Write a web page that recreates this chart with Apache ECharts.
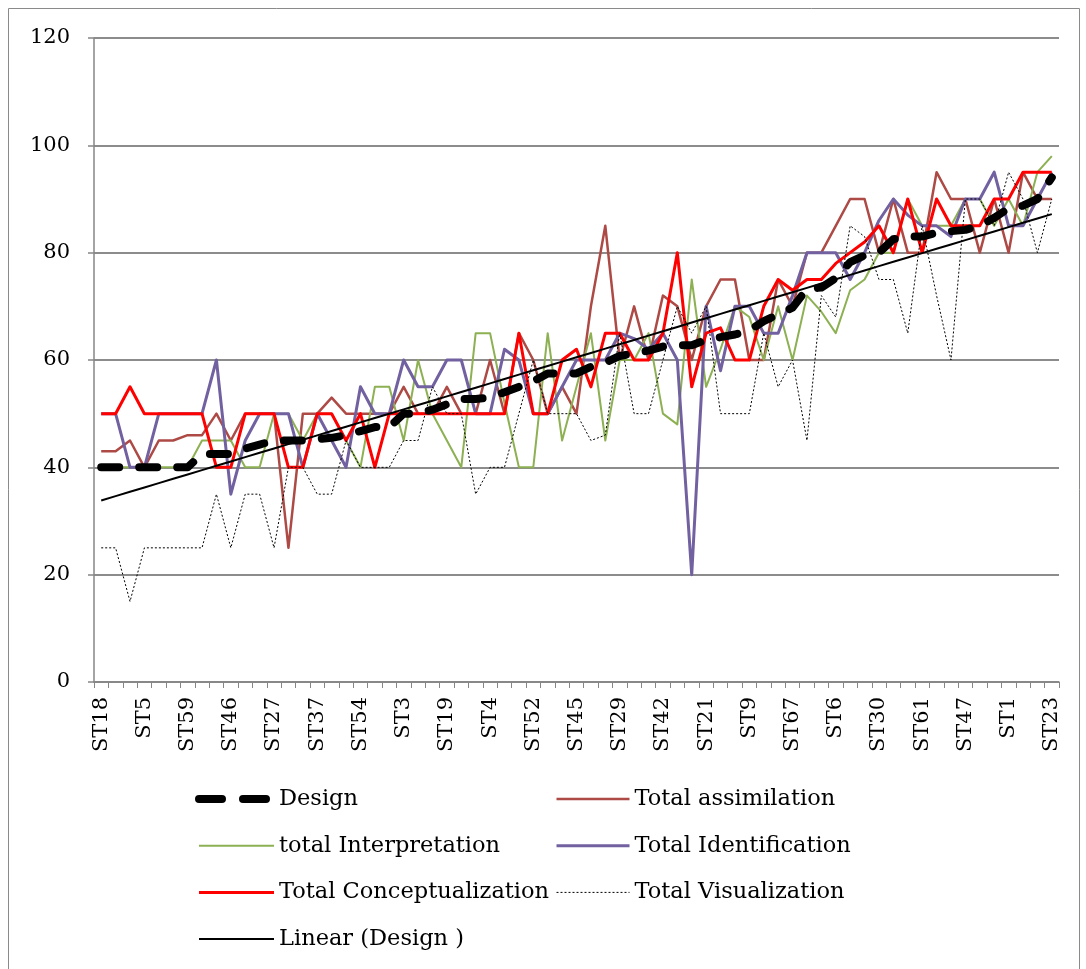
<!DOCTYPE html>
<html>
<head>
<meta charset="utf-8">
<script src="https://cdn.jsdelivr.net/npm/echarts@6/dist/echarts.min.js"></script>
<style>
  html, body { margin: 0; padding: 0; background: #ffffff; }
  #chart { width: 1086px; height: 969px; }
</style>
</head>
<body>
<div id="chart"></div>
<script>
// Students, ordered by their Design score
const students = [
  'ST18','ST2','ST7','ST5','ST8','ST10','ST59','ST11','ST12','ST46',
  'ST13','ST14','ST27','ST15','ST16','ST37','ST17','ST20','ST54','ST22',
  'ST24','ST3','ST25','ST26','ST19','ST28','ST31','ST4','ST32','ST33',
  'ST52','ST34','ST35','ST45','ST36','ST38','ST29','ST39','ST40','ST42',
  'ST41','ST43','ST21','ST44','ST48','ST9','ST49','ST50','ST67','ST51',
  'ST53','ST6','ST55','ST56','ST30','ST57','ST58','ST61','ST60','ST62',
  'ST47','ST63','ST64','ST1','ST65','ST66','ST23'
];

const design = [
  40, 40, 40, 40, 40, 40, 40, 42.5, 42.5, 42.5,
  43.5, 44.25, 45, 45, 45, 45.25, 45.5, 46, 46.75, 47.5,
  47.5, 50, 50, 50.75, 51.75, 52.75, 52.75, 53, 54, 55,
  56, 57.5, 57.5, 57.5, 58.75, 59.5, 60.75, 61.25, 61.75, 62.5,
  62.75, 62.75, 63.75, 64.25, 64.75, 65.5, 67.25, 68.5, 69.75, 73.25,
  73.5, 75.25, 78.25, 79.5, 80, 82.5, 83, 83, 83.75, 84,
  84.25, 85, 86.5, 88.25, 88.75, 90, 94
];

const assimilation = [
  43, 43, 45, 40, 45, 45, 46, 46, 50, 45,
  50, 50, 50, 25, 50, 50, 53, 50, 50, 50,
  50, 55, 50, 50, 55, 50, 50, 60, 50, 65,
  60, 50, 55, 50, 70, 85, 60, 70, 60, 72,
  70, 60, 70, 75, 75, 60, 60, 75, 70, 80,
  80, 85, 90, 90, 80, 90, 80, 80, 95, 90,
  90, 80, 90, 80, 95, 90, 90
];

const interpretation = [
  40, 40, 40, 40, 40, 40, 40, 45, 45, 45,
  40, 40, 50, 50, 45, 50, 50, 45, 40, 55,
  55, 45, 60, 50, 45, 40, 65, 65, 52, 40,
  40, 65, 45, 55, 65, 45, 60, 60, 65, 50,
  48, 75, 55, 62, 70, 68, 60, 70, 60, 72,
  69, 65, 73, 75, 80, 80, 90, 85, 85, 85,
  90, 90, 85, 90, 85, 95, 98
];

const identification = [
  50, 50, 40, 40, 50, 50, 50, 50, 60, 35,
  45, 50, 50, 50, 40, 50, 45, 40, 55, 50,
  50, 60, 55, 55, 60, 60, 50, 50, 62, 60,
  50, 50, 55, 60, 60, 60, 65, 64, 62, 65,
  60, 20, 70, 58, 70, 70, 65, 65, 72, 80,
  80, 80, 75, 80, 86, 90, 87, 85, 85, 83,
  90, 90, 95, 85, 85, 90, 95
];

const conceptualization = [
  50, 50, 55, 50, 50, 50, 50, 50, 40, 40,
  50, 50, 50, 40, 40, 50, 50, 45, 50, 40,
  50, 50, 50, 50, 50, 50, 50, 50, 50, 65,
  50, 50, 60, 62, 55, 65, 65, 60, 60, 65,
  80, 55, 65, 66, 60, 60, 70, 75, 73, 75,
  75, 78, 80, 82, 85, 80, 90, 80, 90, 85,
  85, 85, 90, 90, 95, 95, 95
];

const visualization = [
  25, 25, 15, 25, 25, 25, 25, 25, 35, 25,
  35, 35, 25, 40, 40, 35, 35, 45, 40, 40,
  40, 45, 45, 55, 50, 50, 35, 40, 40, 50,
  60, 50, 50, 50, 45, 46, 65, 50, 50, 60,
  70, 65, 70, 50, 50, 50, 65, 55, 60, 45,
  72, 68, 85, 83, 75, 75, 65, 85, 72, 60,
  90, 90, 85, 95, 90, 80, 90
];

const yTicks = { min: 0, max: 120, step: 20 };

// Least-squares straight line through the Design scores
function linearTrend(values) {
  const n = values.length;
  let sx = 0, sy = 0, sxx = 0, sxy = 0;
  values.forEach((y, i) => { sx += i; sy += y; sxx += i * i; sxy += i * y; });
  const slope = (n * sxy - sx * sy) / (n * sxx - sx * sx);
  const intercept = (sy - slope * sx) / n;
  return values.map((_, i) => intercept + slope * i);
}
const designTrend = linearTrend(design);

const serif = 'DejaVu Serif';
const axisGrey = '#868686';

function lineSeries(name, data, color, width, extra) {
  return Object.assign({
    type: 'line',
    name: name,
    data: data,
    symbol: 'none',
    showSymbol: false,
    silent: true,
    lineStyle: { color: color, width: width, join: 'round' },
    itemStyle: { color: color }
  }, extra || {});
}

// legend keys show only the line sample, no marker
const hiddenMarker = { opacity: 0, color: 'transparent', borderWidth: 0 };
const legendText = { fontFamily: serif, fontSize: 22.5, color: '#000000', lineHeight: 26 };

const chart = echarts.init(document.getElementById('chart'), null, { renderer: 'canvas' });

chart.setOption({
  animation: false,
  backgroundColor: '#ffffff',
  grid: { left: 94, right: 27, top: 38, bottom: 287, containLabel: false },
  xAxis: {
    type: 'category',
    data: students,
    boundaryGap: true,
    axisLine: { lineStyle: { color: axisGrey, width: 1.5 } },
    axisTick: { show: true, interval: 0, length: 6, lineStyle: { color: axisGrey, width: 1 } },
    axisLabel: {
      interval: 2, rotate: 90, margin: 15,
      fontFamily: serif, fontSize: 21, color: '#000000'
    },
    splitLine: { show: false }
  },
  yAxis: {
    type: 'value',
    min: yTicks.min, max: yTicks.max, interval: yTicks.step,
    axisLine: { show: true, lineStyle: { color: axisGrey, width: 1.5 } },
    axisTick: { show: true, length: 6, lineStyle: { color: axisGrey, width: 1.5 } },
    axisLabel: { margin: 24, fontFamily: serif, fontSize: 21, color: '#000000' },
    splitLine: { show: true, lineStyle: { color: '#8c8c8c', width: 2 } }
  },
  legend: [
    {
      orient: 'vertical', left: 195, top: 786, padding: 0,
      itemWidth: 75, itemHeight: 14, itemGap: 20.7,
      selectedMode: false,
      itemStyle: hiddenMarker,
      textStyle: legendText,
      data: [
        { name: 'Design', lineStyle: { width: 8, type: [23, 21], cap: 'round' } },
        { name: 'total Interpretation', lineStyle: { width: 2 } },
        { name: 'Total Conceptualization', lineStyle: { width: 3 } },
        { name: 'Linear (Design )', lineStyle: { width: 2 } }
      ]
    },
    {
      orient: 'vertical', left: 555, top: 786, padding: 0,
      itemWidth: 73, itemHeight: 14, itemGap: 20.7,
      selectedMode: false,
      itemStyle: hiddenMarker,
      textStyle: legendText,
      data: [
        { name: 'Total assimilation', lineStyle: { width: 2.5 } },
        { name: 'Total Identification', lineStyle: { width: 3 } },
        { name: 'Total Visualization', lineStyle: { width: 1 } }
      ]
    }
  ],
  series: [
    lineSeries('Total assimilation', assimilation, '#ad4a45', 2.5),
    lineSeries('total Interpretation', interpretation, '#8cb052', 2),
    lineSeries('Total Identification', identification, '#7261a0', 3),
    lineSeries('Total Conceptualization', conceptualization, '#ff0000', 3),
    lineSeries('Total Visualization', visualization, '#000000', 1, {
      lineStyle: { color: '#000000', width: 1, type: [2, 2] }
    }),
    lineSeries('Design', design, '#000000', 8, {
      lineStyle: { color: '#000000', width: 8, type: [18, 20], cap: 'round', join: 'round' }
    }),
    lineSeries('Linear (Design )', designTrend, '#000000', 2)
  ],
  graphic: [
    {
      type: 'rect', silent: true, z: -1,
      shape: { x: 8.5, y: 8.5, width: 1071, height: 975 },
      style: { fill: 'none', stroke: '#8a8a8a', lineWidth: 1 }
    }
  ]
});
</script>
</body>
</html>
